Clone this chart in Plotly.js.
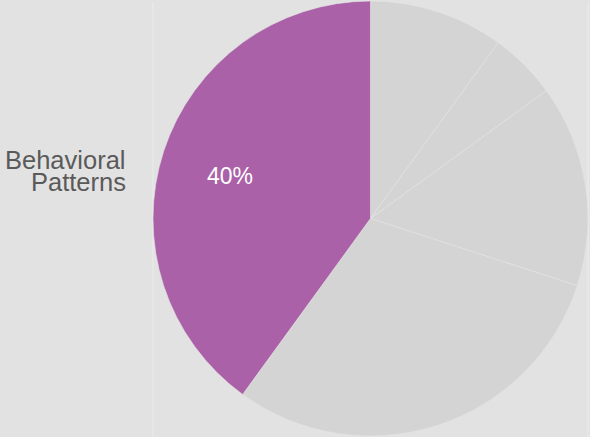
<!DOCTYPE html>
<html>
<head>
<meta charset="utf-8">
<script src="https://cdn.plot.ly/plotly-3.0.1.min.js"></script>
<style>html,body{margin:0;padding:0;background:#e2e2e2;}#chart{width:590px;height:437px;}</style>
</head>
<body>
<div id="chart"></div>
<script>
var categories = ["Other A", "Other B", "Other C", "Other D", "Behavioral Patterns"];
var values = [10, 5, 15, 30, 40];
var sliceColors = ["#d4d4d4", "#d4d4d4", "#d4d4d4", "#d4d4d4", "#ab61a7"];
var highlightLabelLines = ["Behavioral", "Patterns"];
var highlightIndex = 4;

var total = values.reduce(function(a, b){ return a + b; }, 0);
var pctText = Math.round(values[highlightIndex] / total * 100) + "%";

var trace = {
  type: "pie",
  labels: categories,
  values: values,
  sort: false,
  direction: "clockwise",
  rotation: 0,
  marker: {colors: sliceColors, line: {color: "#e4e4e4", width: 0.6}},
  textinfo: "none",
  hoverinfo: "label+percent",
  showlegend: false,
  domain: {x: [0.2593, 0.9966], y: [0, 1]}
};

var labelFont = {family: "Liberation Sans, Arial, sans-serif", size: 25.5, color: "#5a5a5a"};

var layout = {
  width: 590, height: 437,
  margin: {l: 0, r: 0, t: 0, b: 0},
  paper_bgcolor: "#e2e2e2",
  plot_bgcolor: "#e2e2e2",
  showlegend: false,
  shapes: [
    {type: "line", xref: "paper", yref: "paper", x0: 0.2593, x1: 0.2593, y0: 0, y1: 0.995, line: {color: "#ebebeb", width: 1}, layer: "below"},
    {type: "line", xref: "paper", yref: "paper", x0: 0.9966, x1: 0.9966, y0: 0, y1: 0.995, line: {color: "#ebebeb", width: 1}, layer: "below"}
  ],
  annotations: [
    {text: highlightLabelLines[0], xref: "paper", yref: "paper", x: 0.2153, y: 0.636,
     xanchor: "right", yanchor: "middle", showarrow: false, font: labelFont, height: 21, borderpad: 0},
    {text: highlightLabelLines[1], xref: "paper", yref: "paper", x: 0.2153, y: 0.584,
     xanchor: "right", yanchor: "middle", showarrow: false, font: labelFont, height: 21, borderpad: 0},
    {text: pctText, xref: "paper", yref: "paper", x: 0.3898, y: 0.597,
     xanchor: "center", yanchor: "middle", showarrow: false,
     font: {family: "Liberation Sans, Arial, sans-serif", size: 23, color: "#ffffff"}}
  ]
};

Plotly.newPlot("chart", [trace], layout, {displayModeBar: false, staticPlot: true});
</script>
</body>
</html>
